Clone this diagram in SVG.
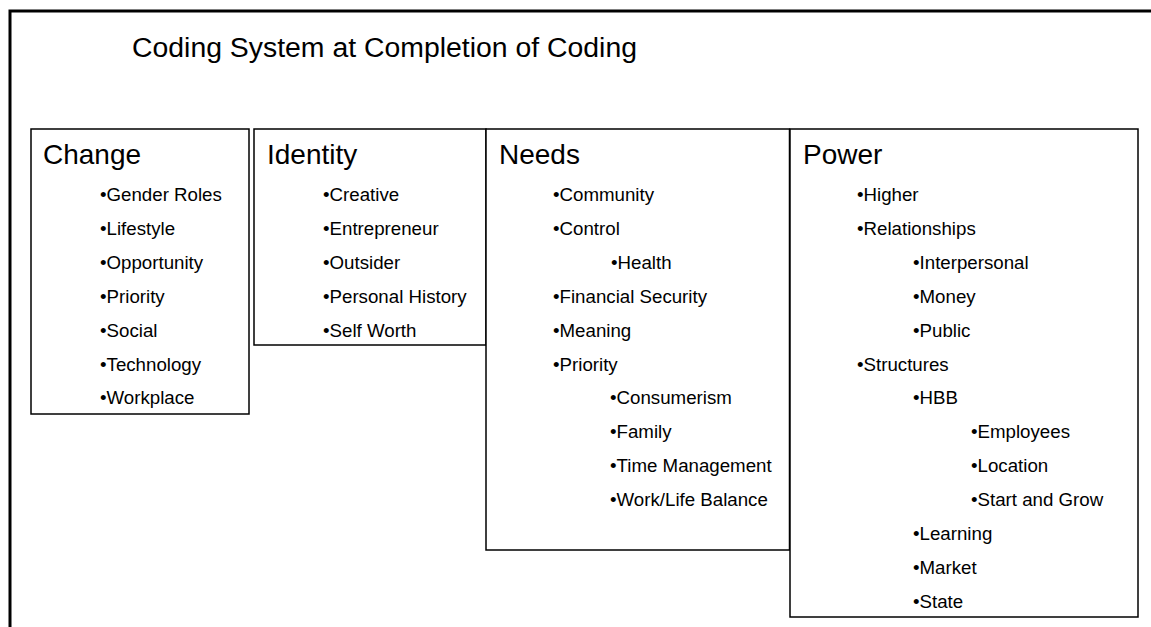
<svg xmlns="http://www.w3.org/2000/svg" width="1151" height="627" viewBox="0 0 1151 627">
<style>
.frame{fill:none;stroke:#000;stroke-width:3}
.box{fill:#fff;stroke:#000;stroke-width:1.5}
text{font-family:"Liberation Sans",Arial,sans-serif;fill:#000}
.title{font-size:28.4px}
.head{font-size:28px}
.item{font-size:18.7px}
</style>
<rect width="1151" height="627" fill="#fff"/>
<path class="frame" d="M10,630 V11 H1155"/>
<text class="title" x="132" y="57">Coding System at Completion of Coding</text>
<g id="change">
<rect class="box" x="31" y="129" width="218" height="285"/>
<text class="head" x="43" y="163.5">Change</text>
<text class="item" x="100" y="201">•Gender Roles</text>
<text class="item" x="100" y="234.9">•Lifestyle</text>
<text class="item" x="100" y="268.8">•Opportunity</text>
<text class="item" x="100" y="302.7">•Priority</text>
<text class="item" x="100" y="336.6">•Social</text>
<text class="item" x="100" y="370.5">•Technology</text>
<text class="item" x="100" y="404.4">•Workplace</text>
</g>
<g id="identity">
<rect class="box" x="254" y="129" width="232" height="216"/>
<text class="head" x="267" y="163.5">Identity</text>
<text class="item" x="323" y="201">•Creative</text>
<text class="item" x="323" y="234.9">•Entrepreneur</text>
<text class="item" x="323" y="268.8">•Outsider</text>
<text class="item" x="323" y="302.7">•Personal History</text>
<text class="item" x="323" y="336.6">•Self Worth</text>
</g>
<g id="needs">
<rect class="box" x="486" y="129" width="303.5" height="421"/>
<text class="head" x="499" y="163.5">Needs</text>
<text class="item" x="553" y="201">•Community</text>
<text class="item" x="553" y="234.9">•Control</text>
<text class="item" x="611" y="268.8">•Health</text>
<text class="item" x="553" y="302.7">•Financial Security</text>
<text class="item" x="553" y="336.6">•Meaning</text>
<text class="item" x="553" y="370.5">•Priority</text>
<text class="item" x="610" y="404.4">•Consumerism</text>
<text class="item" x="610" y="438.3">•Family</text>
<text class="item" x="610" y="472.2">•Time Management</text>
<text class="item" x="610" y="506.1">•Work/Life Balance</text>
</g>
<g id="power">
<rect class="box" x="790" y="129" width="348" height="488"/>
<text class="head" x="803" y="163.5">Power</text>
<text class="item" x="857" y="201">•Higher</text>
<text class="item" x="857" y="234.9">•Relationships</text>
<text class="item" x="913" y="268.8">•Interpersonal</text>
<text class="item" x="913" y="302.7">•Money</text>
<text class="item" x="913" y="336.6">•Public</text>
<text class="item" x="857" y="370.5">•Structures</text>
<text class="item" x="913" y="404.4">•HBB</text>
<text class="item" x="971" y="438.3">•Employees</text>
<text class="item" x="971" y="472.2">•Location</text>
<text class="item" x="971" y="506.1">•Start and Grow</text>
<text class="item" x="913" y="540">•Learning</text>
<text class="item" x="913" y="573.9">•Market</text>
<text class="item" x="913" y="607.8">•State</text>
</g>
<g id="connectors"/>
</svg>
